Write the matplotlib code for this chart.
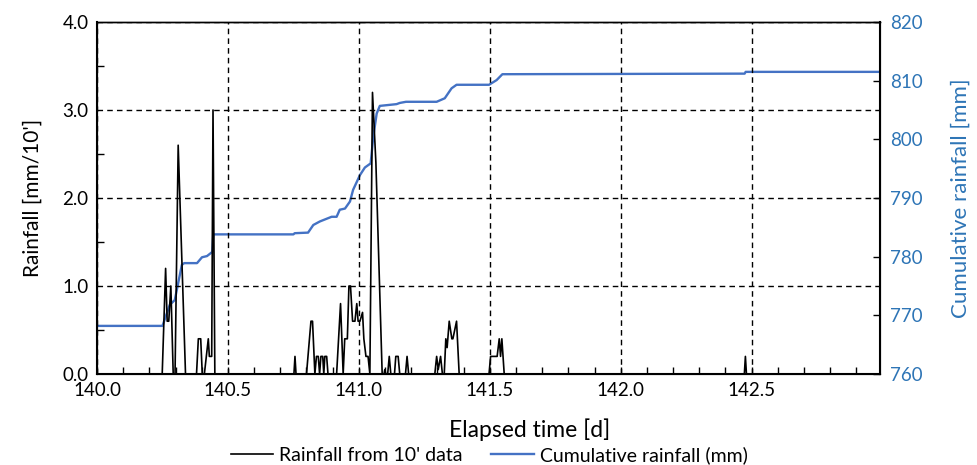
import matplotlib
matplotlib.use("Agg")
import matplotlib.pyplot as plt
from matplotlib.ticker import MultipleLocator, FormatStrFormatter

plt.rcParams['font.family'] = ['Lato', 'DejaVu Sans']

# Rainfall from 10' data (time [d], rainfall [mm/10'])
rain_t = [140.000, 140.249, 140.262, 140.268, 140.274, 140.282, 140.291, 140.298, 140.310, 140.338,
          140.380, 140.387, 140.396, 140.402, 140.410, 140.425, 140.429, 140.438, 140.443, 140.450,
          140.752, 140.756, 140.760, 140.800, 140.817, 140.823, 140.832, 140.838, 140.845, 140.850,
          140.855, 140.862, 140.866, 140.870, 140.877, 140.882, 140.915, 140.930, 140.940, 140.946,
          140.956, 140.962, 140.968, 140.976, 140.985, 140.992, 140.997, 141.004, 141.014, 141.019,
          141.027, 141.035, 141.042, 141.052, 141.065, 141.089, 141.096, 141.099, 141.103, 141.110,
          141.116, 141.122, 141.136, 141.141, 141.150, 141.156, 141.178, 141.184, 141.190, 141.290,
          141.297, 141.303, 141.312, 141.319, 141.326, 141.332, 141.337, 141.345, 141.355, 141.359,
          141.373, 141.383, 141.497, 141.503, 141.528, 141.536, 141.541, 141.546, 141.555, 142.472,
          142.476, 142.480, 142.990]
rain_v = [0.0, 0.0, 1.2, 0.6, 0.6, 1.0, 0.0, 0.0, 2.6, 0.0,
          0.0, 0.4, 0.4, 0.0, 0.0, 0.4, 0.2, 0.2, 3.0, 0.0,
          0.0, 0.2, 0.0, 0.0, 0.6, 0.6, 0.0, 0.2, 0.2, 0.0,
          0.2, 0.2, 0.0, 0.2, 0.2, 0.0, 0.0, 0.8, 0.0, 0.4,
          0.4, 1.0, 1.0, 0.6, 0.6, 0.8, 0.6, 0.6, 0.7, 0.4,
          0.2, 0.2, 0.0, 3.2, 2.4, 0.0, 0.0, 0.05, 0.0, 0.0,
          0.2, 0.0, 0.0, 0.2, 0.2, 0.0, 0.0, 0.2, 0.0, 0.0,
          0.2, 0.05, 0.2, 0.0, 0.0, 0.4, 0.3, 0.6, 0.4, 0.4,
          0.6, 0.0, 0.0, 0.2, 0.2, 0.4, 0.2, 0.4, 0.0, 0.0,
          0.2, 0.0, 0.0]

# Cumulative rainfall (time [d], mm)
cum_t = [140.000, 140.250, 140.278, 140.297, 140.324, 140.333, 140.382, 140.401, 140.420, 140.440,
         140.444, 140.750, 140.755, 140.806, 140.826, 140.851, 140.896, 140.915, 140.927, 140.947,
         140.966, 140.978, 141.004, 141.023, 141.045, 141.055, 141.068, 141.080, 141.144, 141.156,
         141.180, 141.297, 141.328, 141.354, 141.373, 141.497, 141.526, 141.548, 142.473, 142.477,
         142.990]
cum_v = [768.2, 768.2, 771.8, 772.6, 778.6, 778.9, 778.9, 779.9, 780.1, 780.8,
         783.8, 783.8, 784.0, 784.1, 785.4, 786.0, 786.8, 786.8, 788.0, 788.2,
         789.4, 791.4, 793.9, 795.2, 795.9, 800.4, 804.4, 805.7, 806.0, 806.2,
         806.4, 806.4, 807.0, 808.7, 809.3, 809.3, 810.1, 811.1, 811.2, 811.5,
         811.5]

x_ticks = [140.0, 140.5, 141.0, 141.5, 142.0, 142.5]
blue = '#4472C4'
blue_text = '#2E75B6'

fig = plt.figure(figsize=(9.78, 4.65), dpi=100)
ax = fig.add_axes([97/978, 91/465, 783/978, 352/465])
ax2 = ax.twinx()

l1, = ax.plot(rain_t, rain_v, color='black', lw=1.2, label="Rainfall from 10' data", zorder=3)
l2, = ax2.plot(cum_t, cum_v, color=blue, lw=1.7, label='Cumulative rainfall (mm)', zorder=2)

ax.set_xlim(140.0, 142.99)
ax.set_ylim(0, 4.0)
ax2.set_ylim(760, 820)

ax.set_xticks(x_ticks)
ax.xaxis.set_major_formatter(FormatStrFormatter('%.1f'))
ax.xaxis.set_minor_locator(MultipleLocator(0.1))
ax.yaxis.set_major_locator(MultipleLocator(1.0))
ax.yaxis.set_major_formatter(FormatStrFormatter('%.1f'))
ax.yaxis.set_minor_locator(MultipleLocator(0.5))
ax2.yaxis.set_major_locator(MultipleLocator(10))

ax.grid(True, which='major', color='black', linestyle=(0, (4, 3)), lw=1.0)

ax.tick_params(axis='both', which='major', direction='in', length=0, labelsize=13.5, pad=6)
ax.tick_params(axis='both', which='minor', direction='in', length=5, width=1)
ax.tick_params(axis='x', which='major', length=5, width=1)
ax2.tick_params(axis='y', which='major', direction='in', length=5, width=1,
                labelsize=13.5, labelcolor=blue_text, pad=7)

for sp in ['left', 'bottom', 'right']:
    ax2.spines[sp].set_linewidth(1.5)
ax2.spines['top'].set_linewidth(1.0)
ax.spines['top'].set_linewidth(1.0)

ax.set_xlabel('Elapsed time [d]', fontsize=16.5)
ax.xaxis.set_label_coords(0.552, -0.125)
ax.set_ylabel("Rainfall [mm/10']", fontsize=15, labelpad=14)
ax2.set_ylabel('Cumulative rainfall [mm]', fontsize=16, color=blue_text, labelpad=20)

ax.set_zorder(ax2.get_zorder() + 1)
ax.patch.set_visible(False)

fig.legend(handles=[l1, l2], loc='lower center', bbox_to_anchor=(0.50, -0.035), ncol=2,
           frameon=False, fontsize=14, handlelength=2.2, columnspacing=1.45, handletextpad=0.3)

fig.savefig('out.png', dpi=100)
